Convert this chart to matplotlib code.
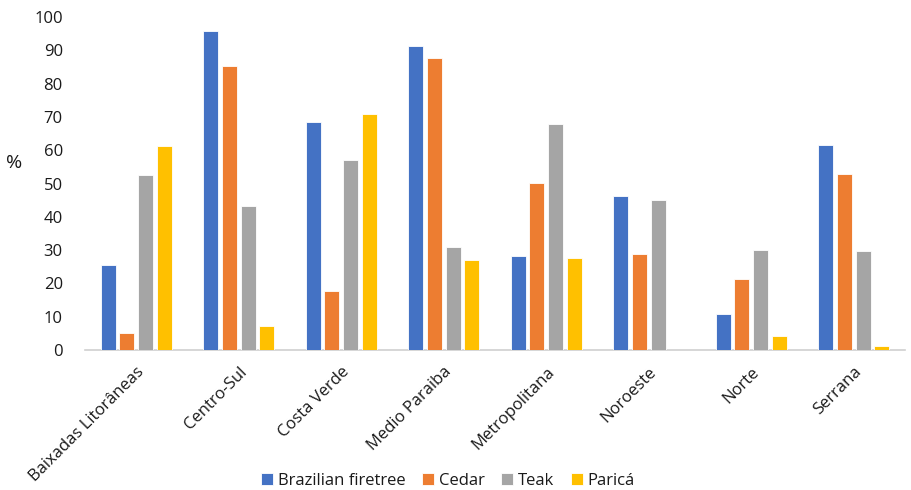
import matplotlib
matplotlib.use("Agg")
import matplotlib.pyplot as plt
import numpy as np

regions = ["Baixadas Litorâneas", "Centro-Sul", "Costa Verde", "Medio Paraiba",
           "Metropolitana", "Noroeste", "Norte", "Serrana"]
series_names = ["Brazilian firetree", "Cedar", "Teak", "Paricá"]
brazilian_firetree = [25.6, 95.9, 68.6, 91.4, 28.2, 46.1, 10.7, 61.6]
cedar = [5.0, 85.2, 17.7, 87.6, 50.3, 28.7, 21.3, 53.0]
teak = [52.7, 43.3, 57.1, 30.8, 67.8, 45.0, 29.9, 29.6]
parica = [61.2, 7.1, 71.0, 27.0, 27.6, 0.0, 4.1, 1.3]
y_ticks = [0, 10, 20, 30, 40, 50, 60, 70, 80, 90, 100]

colors = ["#4472C4", "#ED7D31", "#A5A5A5", "#FFC000"]

plt.rcParams['font.family'] = ['Open Sans', 'DejaVu Sans']

fig = plt.figure(figsize=(9.11, 4.90), dpi=100)
ax = fig.add_axes([85 / 911, 140 / 490, 820 / 911, 333 / 490])

x = np.arange(len(regions))
step = 0.1825
width = 0.145
for j, (name, vals) in enumerate(zip(series_names, [brazilian_firetree, cedar, teak, parica])):
    ax.bar(x + (j - 1.5) * step, vals, width=width, color=colors[j],
           edgecolor="white", linewidth=0.6, label=name, zorder=3)

ax.set_xlim(-0.5, len(regions) - 0.5)
ax.set_ylim(0, 100)
ax.set_yticks(y_ticks)
ax.tick_params(axis="y", length=0, labelsize=12, pad=16, labelcolor="#1a1a1a")
ax.tick_params(axis="x", length=0, pad=10)
ax.set_xticks(x)
ax.set_xticklabels(regions, rotation=45, ha="right", rotation_mode="anchor",
                   fontsize=12, color="#1a1a1a")

for side in ["top", "right", "left"]:
    ax.spines[side].set_visible(False)
ax.spines["bottom"].set_color("#D0D0D0")
ax.spines["bottom"].set_linewidth(1.2)

fig.text(14 / 911, 1 - 163 / 490, "%", fontsize=14, ha="center", va="center", color="#1a1a1a")

ax.legend(loc="center", bbox_to_anchor=(448 / 911, 1 - 481 / 490),
          bbox_transform=fig.transFigure, ncol=4, frameon=False, fontsize=12,
          handlelength=0.7, handleheight=0.7, handletextpad=0.3, columnspacing=1.0,
          labelcolor="#1a1a1a")

fig.savefig("out.png", dpi=100)
